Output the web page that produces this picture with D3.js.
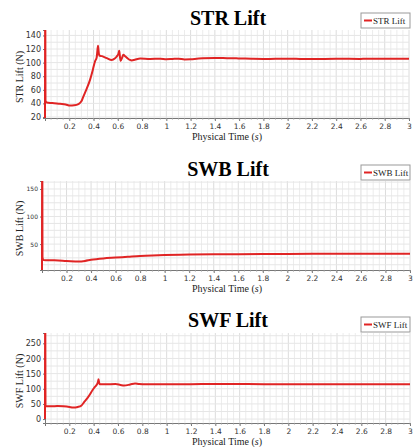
<!DOCTYPE html>
<html>
<head>
<meta charset="utf-8">
<script src="https://cdn.jsdelivr.net/npm/d3@7"></script>
<style>
  html, body { margin: 0; padding: 0; background: #fff; }
  svg { display: block; }
</style>
</head>
<body>
<svg id="chart" width="419" height="447"></svg>
<script>
// Physical time samples (s) and lift values (N) for each surface
const strTime = [0, 0.001, 0.004, 0.014, 0.06, 0.124, 0.17, 0.206, 0.24, 0.275, 0.3, 0.316, 0.34, 0.371, 0.395, 0.412, 0.426, 0.432, 0.437, 0.442, 0.447, 0.47, 0.509, 0.55, 0.575, 0.591, 0.605, 0.612, 0.618, 0.624, 0.635, 0.646, 0.66, 0.679, 0.7, 0.715, 0.74, 0.784, 0.866, 0.95, 1.0, 1.05, 1.1, 1.15, 1.2, 1.25, 1.3, 1.4, 1.5, 1.6, 1.7, 1.8, 1.9, 2.0, 2.2, 2.4, 2.6, 2.8, 3.0];
const strLift = [0, 300, 44, 41.2, 40.5, 39.3, 38.5, 36.8, 37.2, 39, 43, 50, 60, 74.6, 90, 101.7, 107.6, 118, 125, 116, 110.5, 109.5, 106.6, 104, 106, 109, 113, 117.5, 108, 102.7, 107, 111.5, 109.5, 106.6, 104, 103.2, 104.2, 106, 105.5, 105.8, 105, 105.4, 105.8, 104.7, 104.8, 105.6, 106.4, 106.8, 106.5, 106.2, 105.7, 105.4, 105.6, 105.6, 105.4, 105.6, 105.5, 105.8, 105.6];

const swbTime = [0, 0.001, 0.004, 0.012, 0.05, 0.1, 0.2, 0.3, 0.35, 0.4, 0.5, 0.6, 0.7, 0.8, 0.9, 1.0, 1.2, 1.4, 1.6, 1.8, 2.0, 2.4, 2.8, 3.0];
const swbLift = [0, 400, 26, 21, 20.5, 20.5, 19.5, 18.5, 19.5, 21.5, 24, 25.5, 27, 28.5, 29.5, 30.2, 31, 31.6, 31.8, 32, 32.2, 32.4, 32.5, 32.5];

const swfTime = [0, 0.001, 0.004, 0.014, 0.06, 0.1, 0.15, 0.2, 0.23, 0.27, 0.3, 0.32, 0.35, 0.37, 0.39, 0.41, 0.425, 0.435, 0.44, 0.445, 0.45, 0.5, 0.58, 0.62, 0.65, 0.7, 0.74, 0.77, 0.82, 0.9, 1.0, 1.2, 1.4, 1.6, 1.8, 2.0, 2.4, 2.8, 3.0];
const swfLift = [0, 600, 44, 42, 42, 43, 42, 40, 38, 40, 45, 55, 70, 82, 95, 106, 113, 122, 131, 120, 115, 115, 115.5, 112.5, 110.5, 114, 117.5, 116, 114.5, 115, 115, 115.2, 116, 115.5, 115, 115.2, 115, 115, 115];

const xTicks = [0.2, 0.4, 0.6, 0.8, 1, 1.2, 1.4, 1.6, 1.8, 2, 2.2, 2.4, 2.6, 2.8, 3];
const strTicks = [20, 40, 60, 80, 100, 120, 140];
const swbTicks = [50, 100, 150];
const swfTicks = [0, 50, 100, 150, 200, 250];

const panels = [
  { title: "STR Lift", yLabel: "STR Lift (N)", time: strTime, lift: strLift, yTicks: strTicks,
    yDomain: [18.5, 148], yMinorStep: 10, top: 30, bottom: 118, left: 45, right: 409,
    titleY: 25, legendY: 13, tickFont: 8, tickLabelRight: 41 },
  { title: "SWB Lift", yLabel: "SWB Lift (N)", time: swbTime, lift: swbLift, yTicks: swbTicks,
    yDomain: [3, 164.5], yMinorStep: 12.5, top: 181, bottom: 270, left: 42, right: 410,
    titleY: 176, legendY: 165, tickFont: 6, tickLabelRight: 38 },
  { title: "SWF Lift", yLabel: "SWF Lift (N)", time: swfTime, lift: swfLift, yTicks: swfTicks,
    yDomain: [-13, 284], yMinorStep: 25, top: 333, bottom: 423, left: 45, right: 410,
    titleY: 327, legendY: 317, tickFont: 8, tickLabelRight: 41 }
];

const svg = d3.select("#chart");
const red = "#e02424";

panels.forEach((p, i) => {
  const g = svg.append("g");
  const x = d3.scaleLinear().domain([0, 3]).range([p.left, p.right]);
  const y = d3.scaleLinear().domain(p.yDomain).range([p.bottom, p.top]);

  // Grid: vertical every 0.05 s, horizontal at half/quarter of labelled step
  const vGrid = d3.range(0.05, 3.0001, 0.05);
  g.append("g").selectAll("line").data(vGrid).join("line")
    .attr("x1", d => x(d)).attr("x2", d => x(d))
    .attr("y1", p.top).attr("y2", p.bottom)
    .attr("stroke", (d) => Math.abs(d * 5 - Math.round(d * 5)) < 1e-6 ? "#dcdcdc" : "#ececec")
    .attr("stroke-width", 1);
  const hStart = Math.ceil(p.yDomain[0] / p.yMinorStep) * p.yMinorStep;
  const hGrid = d3.range(hStart, p.yDomain[1], p.yMinorStep);
  g.append("g").selectAll("line").data(hGrid).join("line")
    .attr("x1", p.left).attr("x2", p.right)
    .attr("y1", d => y(d)).attr("y2", d => y(d))
    .attr("stroke", "#e6e6e6").attr("stroke-width", 1);

  // Axes
  const xAxis = d3.axisBottom(x).tickValues(xTicks).tickSize(3).tickPadding(3)
    .tickFormat(d3.format("~g"));
  const xg = g.append("g").attr("transform", `translate(0,${p.bottom})`).call(xAxis);
  xg.select(".domain").attr("stroke", "#777");
  xg.selectAll(".tick line").attr("stroke", "#777");
  xg.selectAll("text").attr("font-family", "DejaVu Sans, sans-serif")
    .attr("font-size", 7.5).attr("fill", "#333");
  // minor ticks on x axis
  g.append("g").selectAll("line").data(vGrid).join("line")
    .attr("x1", d => x(d)).attr("x2", d => x(d))
    .attr("y1", p.bottom).attr("y2", p.bottom + 1.5)
    .attr("stroke", "#999");

  const yAxis = d3.axisLeft(y).tickValues(p.yTicks).tickSize(2).tickPadding(p.left - p.tickLabelRight - 2);
  const yg = g.append("g").attr("transform", `translate(${p.left},0)`).call(yAxis);
  yg.select(".domain").attr("stroke", "#777");
  yg.selectAll(".tick line").attr("stroke", "#777");
  yg.selectAll("text").attr("font-family", "DejaVu Sans, sans-serif")
    .attr("font-size", p.tickFont).attr("fill", "#333");

  // Data line
  const clipId = "clip" + i;
  svg.append("clipPath").attr("id", clipId).append("rect")
    .attr("x", p.left - 1).attr("y", p.top).attr("width", p.right - p.left + 2).attr("height", p.bottom - p.top);
  const pts = p.time.map((t, k) => [t, p.lift[k]]);
  const line = d3.line().x(d => x(d[0])).y(d => y(d[1])).curve(d3.curveMonotoneX);
  g.append("path").datum(pts)
    .attr("clip-path", `url(#${clipId})`)
    .attr("fill", "none").attr("stroke", red).attr("stroke-width", 2)
    .attr("stroke-linejoin", "round")
    .attr("d", line);

  // Title
  g.append("text").attr("x", 228).attr("y", p.titleY)
    .attr("text-anchor", "middle")
    .attr("font-family", "Liberation Serif, Times New Roman, serif")
    .attr("font-weight", "bold").attr("font-size", 20).attr("fill", "#000")
    .text(p.title);

  // Legend
  const lg = g.append("g").attr("transform", `translate(361,${p.legendY})`);
  lg.append("rect").attr("width", 49).attr("height", 15)
    .attr("fill", "#fff").attr("stroke", "#999").attr("stroke-width", 1);
  lg.append("line").attr("x1", 3).attr("x2", 11).attr("y1", 7.5).attr("y2", 7.5)
    .attr("stroke", red).attr("stroke-width", 2);
  lg.append("text").attr("x", 12).attr("y", 10.5)
    .attr("font-family", "Liberation Serif, Times New Roman, serif")
    .attr("font-size", 9).attr("fill", "#222").text(p.title);

  // Axis titles
  const xt = g.append("text").attr("x", 227).attr("y", p.bottom + 22)
    .attr("text-anchor", "middle")
    .attr("font-family", "Liberation Serif, Times New Roman, serif")
    .attr("font-size", 10).attr("fill", "#222");
  xt.append("tspan").text("Physical Time (");
  xt.append("tspan").attr("font-style", "italic").text("s");
  xt.append("tspan").text(")");

  g.append("text")
    .attr("transform", `translate(23,${(p.top + p.bottom) / 2 + 3}) rotate(-90)`)
    .attr("text-anchor", "middle")
    .attr("font-family", "Liberation Serif, Times New Roman, serif")
    .attr("font-size", 10).attr("fill", "#222")
    .text(p.yLabel);
});
</script>
</body>
</html>
